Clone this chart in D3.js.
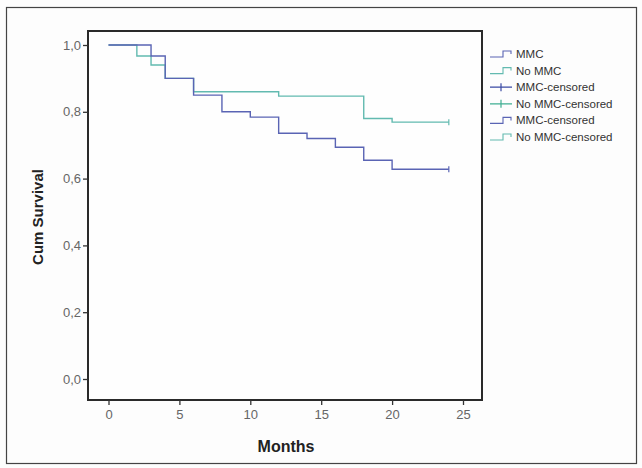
<!DOCTYPE html>
<html>
<head>
  <script src="https://d3js.org/d3.v7.min.js"></script>
  <style>
    html, body {
      margin: 0px;
      padding: 0px;
      background: #fdfdfd;
      font-family: Arial, "Liberation Sans", Helvetica, sans-serif;
    }
    .tick text {
      fill: #666;
      font-size: 13px;
    }
    .axisLabel {
      font-weight: bold;
      fill: #222;
    }
    .legend text {
      font-size: 11.5px;
      fill: #333;
    }
  </style>
</head>
<body>
  <div id="chart"></div>
  <script>
    // Kaplan-Meier steps
    const mmcMonths = [0, 3, 4, 6, 8, 10, 12, 14, 16, 18, 20, 24];
    const mmcSurv = [1.0, 0.967, 0.90, 0.85, 0.80, 0.784, 0.736, 0.72, 0.694, 0.655, 0.628, 0.628];
    const noMmcMonths = [0, 2, 3, 4, 6, 12, 18, 20, 24];
    const noMmcSurv = [1.0, 0.967, 0.94, 0.90, 0.86, 0.847, 0.78, 0.769, 0.769];
    const censorMonths = [24];

    const xTicks = [0, 5, 10, 15, 20, 25];
    const yTicks = [0, 0.2, 0.4, 0.6, 0.8, 1.0];
    const legendLabels = ["MMC", "No MMC", "MMC-censored", "No MMC-censored", "MMC-censored", "No MMC-censored"];
    const legendKinds = ["step", "step", "cross", "cross", "step", "step"];

    const width = 642, height = 468;
    const box = {left: 88, right: 482, top: 31, bottom: 400};

    const blue = "#5a64b4", green = "#62bab0";
    const legendColors = [blue, green, "#3a4aa4", "#3fae92", blue, green];

    const svg = d3.select("#chart").append("svg")
      .attr("width", width)
      .attr("height", height);

    // scanned-page frame
    svg.append("rect")
      .attr("x", 6.5).attr("y", 7.5)
      .attr("width", 630).attr("height", 456)
      .attr("fill", "#fdfdfd")
      .attr("stroke", "#444").attr("stroke-width", 1.2);

    const xScale = d3.scaleLinear().domain([0, 25]).range([108.5, 463]);
    const yScale = d3.scaleLinear().domain([0, 1]).range([379, 45]);

    // plot box
    svg.append("rect")
      .attr("x", box.left).attr("y", box.top)
      .attr("width", box.right - box.left).attr("height", box.bottom - box.top)
      .attr("fill", "#fefefe")
      .attr("stroke", "#2a2a2a").attr("stroke-width", 2);

    const fmt = d => d3.format(".1f")(d).replace(".", ",");

    const yAxis = svg.append("g")
      .attr("transform", `translate(${box.left},0)`)
      .call(d3.axisLeft(yScale).tickValues(yTicks).tickSize(5).tickPadding(2).tickFormat(fmt));
    yAxis.select(".domain").remove();
    yAxis.selectAll(".tick line").attr("stroke", "#333").attr("stroke-width", 1.3);

    const xAxis = svg.append("g")
      .attr("transform", `translate(0,${box.bottom})`)
      .call(d3.axisBottom(xScale).tickValues(xTicks).tickSize(5).tickPadding(5));
    xAxis.select(".domain").remove();
    xAxis.selectAll(".tick line").attr("stroke", "#333").attr("stroke-width", 1.3);

    // survival curves
    const line = d3.line()
      .x(d => xScale(d[0]))
      .y(d => yScale(d[1]))
      .curve(d3.curveStepAfter);

    const series = [
      {months: noMmcMonths, surv: noMmcSurv, color: green},
      {months: mmcMonths, surv: mmcSurv, color: blue}
    ];

    series.forEach(s => {
      const pts = s.months.map((m, i) => [m, s.surv[i]]);
      svg.append("path")
        .datum(pts)
        .attr("fill", "none")
        .attr("stroke", s.color)
        .attr("stroke-width", 1.4)
        .attr("d", line);

      svg.selectAll(null)
        .data(censorMonths)
        .enter()
        .append("line")
          .attr("x1", d => xScale(d)).attr("x2", d => xScale(d))
          .attr("y1", d => yScale(s.surv[s.months.indexOf(d)]) - 3)
          .attr("y2", d => yScale(s.surv[s.months.indexOf(d)]) + 3)
          .attr("stroke", s.color)
          .attr("stroke-width", 1.2);
    });

    // axis labels
    svg.append("text")
      .attr("class", "axisLabel")
      .attr("x", 286).attr("y", 452)
      .attr("text-anchor", "middle")
      .style("font-size", "16px")
      .text("Months");

    svg.append("text")
      .attr("class", "axisLabel")
      .attr("transform", "translate(43,217) rotate(-90)")
      .attr("text-anchor", "middle")
      .style("font-size", "15px")
      .text("Cum Survival");

    // legend
    const legend = svg.append("g").attr("class", "legend");
    legendLabels.forEach((label, i) => {
      const y = 54 + i * 16.6;
      const g = legend.append("g").attr("transform", `translate(490,${y})`);
      if (legendKinds[i] === "step") {
        g.append("path")
          .attr("d", "M0,3 H13 V-3 H21 V0")
          .attr("fill", "none")
          .attr("stroke", legendColors[i])
          .attr("stroke-width", 1.1);
      } else {
        g.append("path")
          .attr("d", "M0,0 H22 M11,-4 V4")
          .attr("fill", "none")
          .attr("stroke", legendColors[i])
          .attr("stroke-width", 1.2);
      }
      g.append("text")
        .attr("x", 26).attr("y", 4)
        .text(label);
    });
  </script>
</body>
</html>
